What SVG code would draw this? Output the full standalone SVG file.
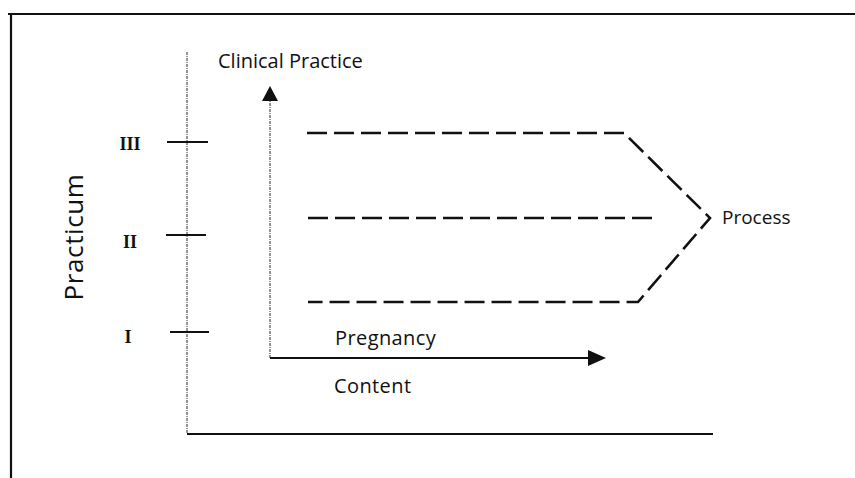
<svg xmlns="http://www.w3.org/2000/svg" width="855" height="478" viewBox="0 0 855 478">
  <defs>
    <style>
      .frame { fill: none; stroke: #111; stroke-width: 2.2; }
      .axis-faint { fill: none; stroke: #7a7a7a; stroke-width: 1.6; stroke-dasharray: 3 1 1 1; }
      .axis { fill: none; stroke: #111; stroke-width: 2; }
      .tick { stroke: #111; stroke-width: 2; }
      .dash { fill: none; stroke: #111; stroke-width: 2.6; stroke-dasharray: 20 7; stroke-linejoin: miter; }
      .label { font-family: "Open Sans", "Liberation Sans", sans-serif; fill: #111; }
      .roman { font-family: "Liberation Serif", "DejaVu Serif", serif; font-weight: bold; fill: #111; font-size: 18px; text-anchor: middle; }
    </style>
  </defs>

  <rect width="855" height="478" fill="#fff"/>

  <!-- page border (top and left edges only) -->
  <path class="frame" d="M8,14 H855 M11,14 V478"/>

  <g id="connectors">
    <!-- practicum axis with its base line -->
    <path class="axis-faint" d="M187,52 V434"/>
    <path class="axis" d="M187,434 H713"/>
    <!-- clinical practice axis -->
    <path class="axis-faint" d="M270,358 V101"/>
    <path d="M262,101 L270,86 L278,101 Z" fill="#111"/>
    <!-- content axis -->
    <path class="axis" d="M270,358 H588"/>
    <path d="M588,350 L606,358 L588,366 Z" fill="#111"/>
    <!-- process lines converging on the bracket -->
    <path class="dash" d="M307,133 H624 L710,218 L638,302 H308"/>
    <path class="dash" d="M308,218 H652"/>
  </g>

  <g id="tick-III"><line class="tick" x1="167" y1="142" x2="208" y2="142"/></g>
  <g id="tick-II"><line class="tick" x1="166" y1="235" x2="206" y2="235"/></g>
  <g id="tick-I"><line class="tick" x1="170" y1="332" x2="209" y2="332"/></g>

  <g id="label-III"><text class="roman" x="130" y="150">III</text></g>
  <g id="label-II"><text class="roman" x="130" y="248">II</text></g>
  <g id="label-I"><text class="roman" x="128" y="343">I</text></g>

  <g id="practicum">
    <text class="label" x="0" y="0" font-size="26" letter-spacing="0.6" text-anchor="middle" transform="translate(83,237) rotate(-90)">Practicum</text>
  </g>
  <g id="clinical-practice">
    <text class="label" x="218" y="68" font-size="20">Clinical Practice</text>
  </g>
  <g id="pregnancy">
    <text class="label" x="335" y="345" font-size="20" letter-spacing="0.4">Pregnancy</text>
  </g>
  <g id="content">
    <text class="label" x="334" y="393" font-size="20" letter-spacing="0.4">Content</text>
  </g>
  <g id="process">
    <text class="label" x="722" y="224" font-size="19">Process</text>
  </g>
</svg>
